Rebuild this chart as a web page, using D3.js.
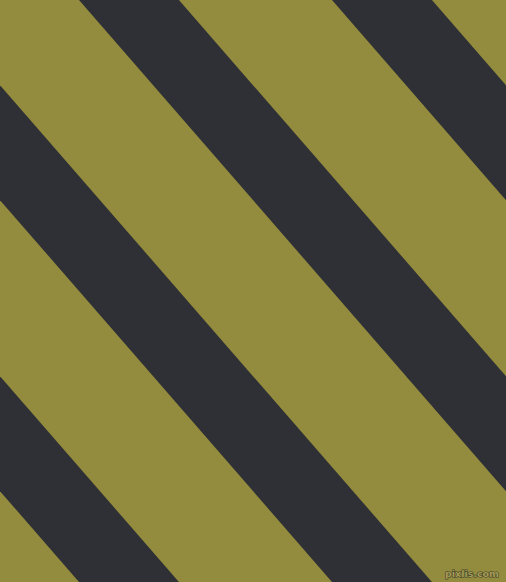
<!DOCTYPE html>
<html>
<head>
<meta charset="utf-8">
<script src="https://cdn.jsdelivr.net/npm/d3@7"></script>
<style>
  html, body { margin: 0; padding: 0; background: #938b3d; overflow: hidden; }
  svg { display: block; }
</style>
</head>
<body>
<div id="chart"></div>
<script>
// stripe data: index of each dark band and the two colours
const stripeIndex = [-2, -1, 0, 1, 2];
const bandColors = ["#938b3d", "#2f3036"];
const watermark = ["pixlis.com"];

const width = 506, height = 582;

const svg = d3.select("#chart")
    .append("svg")
    .attr("width", width)
    .attr("height", height);

// x where a band's lower-left edge crosses the top border
const xStart = d3.scaleLinear().domain([0, 1]).range([79, 332]);
const bandWidth = xStart(0.395) - xStart(0); // ~100px horizontally
// the pattern slides right by exactly two periods from top to bottom
const slide = d3.scaleLinear().domain([0, height]).range([0, xStart(2) - xStart(0)]);

svg.append("rect")
    .attr("width", width)
    .attr("height", height)
    .attr("fill", bandColors[0]);

const line = d3.line();

svg.selectAll("path.band")
    .data(stripeIndex)
    .enter()
    .append("path")
    .attr("class", "band")
    .attr("fill", bandColors[1])
    .attr("d", d => {
        const x0 = xStart(d);
        return line([
            [x0 + slide(0), 0],
            [x0 + bandWidth + slide(0), 0],
            [x0 + bandWidth + slide(height), height],
            [x0 + slide(height), height]
        ]) + "Z";
    });

svg.selectAll("text.mark")
    .data(watermark)
    .enter()
    .append("text")
    .attr("class", "mark")
    .attr("x", 499)
    .attr("y", 577)
    .attr("text-anchor", "end")
    .style("font-family", "DejaVu Sans, sans-serif")
    .style("font-size", "9.5px")
    .style("font-weight", "bold")
    .style("fill", "#a39b55")
    .style("stroke", "#3b3a28")
    .style("stroke-width", "1px")
    .style("paint-order", "stroke")
    .text(d => d);
</script>
</body>
</html>
